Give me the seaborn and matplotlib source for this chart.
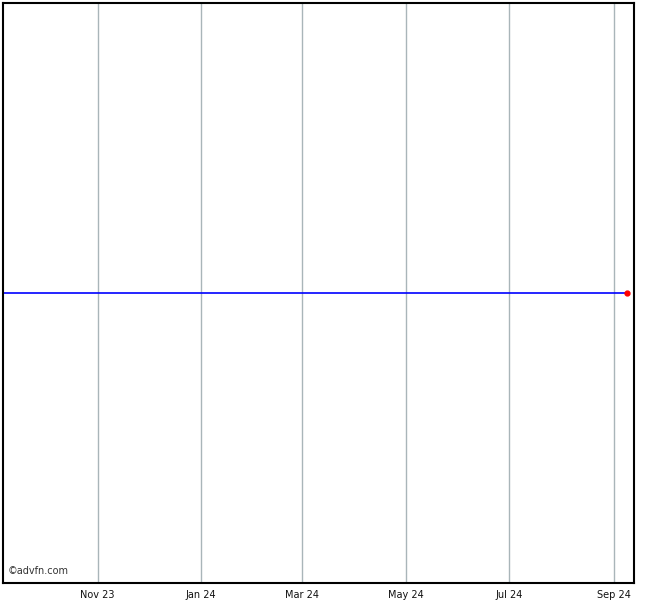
import matplotlib
matplotlib.use("Agg")
import matplotlib.pyplot as plt
import matplotlib.dates as mdates
import seaborn as sns
import pandas as pd

# Data
dates = ["2023-09-06", "2024-09-09"]
prices = [1.0, 1.0]
tick_dates = ["2023-11-01", "2024-01-01", "2024-03-01", "2024-05-01", "2024-07-01", "2024-09-01"]
tick_labels = ["Nov 23", "Jan 24", "Mar 24", "May 24", "Jul 24", "Sep 24"]

df = pd.DataFrame({"date": pd.to_datetime(dates), "price": prices})

sns.set_style("white")
plt.rcParams["font.family"] = ["DejaVu Sans"]

fig = plt.figure(figsize=(6.7, 6.0), dpi=100)
ax = fig.add_axes([3/670, 17/600, 631/670, 580/600])

sns.lineplot(data=df, x="date", y="price", ax=ax, color="#0000ff", linewidth=1.2)
ax.plot(df["date"].iloc[-1], df["price"].iloc[-1], "o", color="#ff0000", markersize=3.5, zorder=5)

ax.set_xlim(pd.Timestamp("2023-09-06"), pd.Timestamp("2024-09-13"))
ax.set_ylim(0.0, 2.0)
ticks = pd.to_datetime(tick_dates)
ax.set_xticks(ticks)
ax.set_xticklabels(tick_labels, fontsize=7, color="#111111")
ax.set_yticks([])
ax.set_xlabel("")
ax.set_ylabel("")
for t in ticks:
    ax.axvline(t, color="#a9b5b9", linewidth=1.0, zorder=0)
ax.tick_params(axis="x", direction="out", length=3, width=1, color="black", pad=2)
for s in ax.spines.values():
    s.set_color("black")
    s.set_linewidth(1.5)
    s.set_visible(True)

ax.text(0.008, 0.012, "©advfn.com", transform=ax.transAxes, fontsize=7, color="#333333",
        ha="left", va="bottom")

fig.savefig("out.png", dpi=100, facecolor="white")
